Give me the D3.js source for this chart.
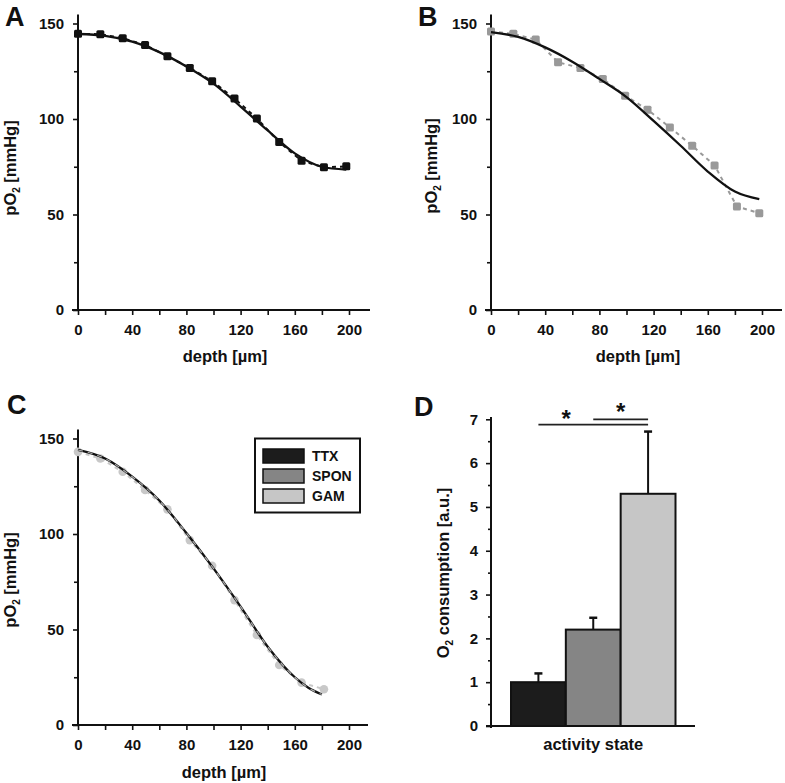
<!DOCTYPE html>
<html><head><meta charset="utf-8">
<script src="https://cdn.jsdelivr.net/npm/d3@7"></script>
<style>body{margin:0;background:#fff}svg{font-family:"Liberation Sans",Arial,sans-serif;font-weight:bold}</style>
</head><body><svg id="c" width="785" height="783"></svg>
<script>
// ---------- data ----------
const depths = [0, 16.5, 33, 49.5, 66, 82.5, 99, 115.5, 132, 148.5, 165, 181.5, 198];
const depthsC = [0, 16.5, 33, 49.5, 66, 82.5, 99, 115.5, 132, 148.5, 165, 181.5];
const pO2A = [144.6, 144.4, 142.3, 138.8, 132.9, 126.7, 119.8, 110.7, 100.3, 87.9, 78.1, 74.7, 75.2];
const pO2B = [145.8, 144.6, 141.6, 129.7, 126.7, 121.0, 112.2, 104.9, 95.6, 86.0, 75.7, 54.2, 50.7];
const pO2C = [143.0, 139.5, 132.6, 123.0, 112.9, 96.8, 83.4, 65.4, 47.1, 31.4, 22.2, 18.7];
const fitDepths = [0, 20, 40, 60, 80, 100, 120, 140, 160, 180, 198];
const fitA = [144.5, 143.5, 140.5, 135, 127.5, 118.5, 106.5, 94, 82, 75, 73.5];
const fitB = [145.5, 143, 137.5, 130, 121, 111.5, 99, 86, 72.5, 62, 58];
const fitDepthsC = [0, 20, 40, 60, 80, 100, 120, 140, 160, 170, 180];
const fitC = [144, 139.5, 130, 117.5, 100.5, 82, 62, 41, 25, 19.5, 16];
const xTicks = [0, 40, 80, 120, 160, 200];
const yTicks = [0, 50, 100, 150];
const states = ["TTX", "SPON", "GAM"];
const consumption = [1.0, 2.2, 5.3];
const consumptionErr = [0.2, 0.27, 1.42];
const stateColors = ["#1c1c1c", "#858585", "#c6c6c6"];
const sigPairs = [["TTX", "GAM", 6.88], ["SPON", "GAM", 7.0]];

const svg = d3.select("#c");
const TICK_FS = 15, TITLE_FS = 16.5;

function styleAxis(g) {
  g.selectAll(".domain").remove();
  g.selectAll("line").attr("stroke", "#111").attr("stroke-width", 1.6);
  g.selectAll("text").attr("font-size", TICK_FS).attr("font-weight", "bold").attr("fill", "#111")
    .attr("font-family", '"Liberation Sans", Arial, sans-serif');
}

function subLabel(g, x, y, pre, post) {
  const t = g.append("text").attr("transform", `translate(${x},${y}) rotate(-90)`)
    .attr("text-anchor", "middle").attr("font-size", TITLE_FS).attr("fill", "#111");
  t.append("tspan").text(pre);
  t.append("tspan").text("2").attr("font-size", 10).attr("dy", 4);
  t.append("tspan").text(post).attr("dy", -4);
}

function linePanel(opt) {
  const x = d3.scaleLinear().domain([0, 200]).range([opt.x0, opt.x0 + 271]);
  const y = d3.scaleLinear().domain([0, 150]).range([opt.y0, opt.y0 - 286.5]);
  const g = svg.append("g");
  g.append("line").attr("x1", x(0)).attr("x2", x(0)).attr("y1", opt.y0 + 1).attr("y2", y(150) - 9)
    .attr("stroke", "#111").attr("stroke-width", 2);
  g.append("line").attr("x1", x(0) - 6).attr("x2", opt.xEnd).attr("y1", opt.y0).attr("y2", opt.y0)
    .attr("stroke", "#111").attr("stroke-width", 2);
  const ya = g.append("g").attr("transform", `translate(${x(0)},0)`)
    .call(d3.axisLeft(y).tickValues(yTicks).tickSize(5).tickPadding(9));
  styleAxis(ya);
  g.append("g").attr("transform", `translate(${x(0)},0)`)
    .call(d3.axisLeft(y).tickValues([25, 75, 125]).tickSize(4).tickFormat(""))
    .call(styleAxis);
  const xa = g.append("g").attr("transform", `translate(0,${opt.y0})`)
    .call(d3.axisBottom(x).tickValues(xTicks).tickSize(5).tickPadding(9));
  styleAxis(xa);
  g.append("g").attr("transform", `translate(0,${opt.y0})`)
    .call(d3.axisBottom(x).tickValues([20, 60, 100, 140, 180]).tickSize(5).tickFormat(""))
    .call(styleAxis);
  g.append("text").attr("x", opt.xlx).attr("y", opt.y0 + opt.xly).attr("text-anchor", "middle")
    .attr("font-size", TITLE_FS).attr("fill", "#111").text("depth [µm]");
  subLabel(g, opt.ylx, opt.yly, "pO", " [mmHg]");
  svg.append("text").attr("x", opt.lx).attr("y", opt.ly).attr("font-size", 27).attr("fill", "#111").text(opt.letter);

  const line = d3.line().x(d => x(d[0])).y(d => y(d[1]));
  const fitPts = opt.fitX.map((d, i) => [d, opt.fit[i]]);
  const dataPts = opt.dataX.map((d, i) => [d, opt.data[i]]);
  const fitLine = d3.line().x(d => x(d[0])).y(d => y(d[1])).curve(d3.curveMonotoneX);
  g.append("path").attr("d", line(dataPts)).attr("fill", "none").attr("stroke", opt.color)
    .attr("stroke-width", 2).attr("stroke-dasharray", "4,4");
  if (opt.shape === "square") {
    g.selectAll(".pt").data(dataPts).join("rect").attr("class", "pt")
      .attr("x", d => x(d[0]) - 4).attr("y", d => y(d[1]) - 4).attr("width", 8).attr("height", 8)
      .attr("rx", 1.5).attr("fill", opt.color);
  } else {
    g.selectAll(".pt").data(dataPts).join("circle").attr("class", "pt")
      .attr("cx", d => x(d[0])).attr("cy", d => y(d[1])).attr("r", 4.3).attr("fill", opt.color);
  }
  g.append("path").attr("d", fitLine(fitPts)).attr("fill", "none").attr("stroke", "#111").attr("stroke-width", 2.3);
  if (opt.overDash) {
    g.append("path").attr("d", fitLine(fitPts)).attr("fill", "none").attr("stroke", "#aaa")
      .attr("stroke-width", 1.2).attr("stroke-dasharray", "5,5");
  }
  return g;
}

linePanel({letter: "A", lx: 5, ly: 26, x0: 78, y0: 310, xEnd: 370, data: pO2A, dataX: depths,
  fit: fitA, fitX: fitDepths, color: "#111", shape: "square", xlx: 225, xly: 52, ylx: 16, yly: 168});
linePanel({letter: "B", lx: 418, ly: 26, x0: 491, y0: 310, xEnd: 782, data: pO2B, dataX: depths,
  fit: fitB, fitX: fitDepths, color: "#999", shape: "square", xlx: 638, xly: 52, ylx: 437, yly: 166});
linePanel({letter: "C", lx: 7, ly: 414, x0: 78, y0: 725, xEnd: 368, data: pO2C, dataX: depthsC,
  fit: fitC, fitX: fitDepthsC, color: "#c8c8c8", shape: "circle", overDash: true,
  xlx: 224, xly: 53, ylx: 16, yly: 580});

// legend in C
const leg = svg.append("g");
leg.append("rect").attr("x", 255).attr("y", 438.5).attr("width", 105).attr("height", 74)
  .attr("fill", "#fff").attr("stroke", "#111").attr("stroke-width", 2);
states.forEach((s, i) => {
  leg.append("rect").attr("x", 263).attr("y", 449 + i * 20).attr("width", 41).attr("height", 14)
    .attr("fill", stateColors[i]).attr("stroke", "#111").attr("stroke-width", 1.5);
  leg.append("text").attr("x", 312).attr("y", 461 + i * 20).attr("font-size", 14).attr("fill", "#111").text(s);
});

// ---------- panel D ----------
const yD = d3.scaleLinear().domain([0, 7]).range([726, 419.3]);
const xD = d3.scaleBand().domain(states).range([511, 675.5]).paddingInner(0);
const gD = svg.append("g");
gD.append("line").attr("x1", 491).attr("x2", 491).attr("y1", 728).attr("y2", 417)
  .attr("stroke", "#111").attr("stroke-width", 2);
gD.append("line").attr("x1", 486).attr("x2", 695).attr("y1", 726).attr("y2", 726)
  .attr("stroke", "#111").attr("stroke-width", 2);
const yaD = gD.append("g").attr("transform", "translate(491,0)")
  .call(d3.axisLeft(yD).tickValues(d3.range(0, 8)).tickSize(5).tickPadding(8).tickFormat(d3.format("d")));
styleAxis(yaD);
gD.append("g").attr("transform", "translate(491,0)")
  .call(d3.axisLeft(yD).tickValues(d3.range(0.5, 7, 1)).tickSize(3).tickFormat(""))
  .call(styleAxis);
gD.selectAll(".bar").data(states).join("rect").attr("class", "bar")
  .attr("x", d => xD(d)).attr("width", xD.bandwidth())
  .attr("y", (d, i) => yD(consumption[i])).attr("height", (d, i) => yD(0) - yD(consumption[i]))
  .attr("fill", (d, i) => stateColors[i]).attr("stroke", "#111").attr("stroke-width", 2);
states.forEach((s, i) => {
  const cx = xD(s) + xD.bandwidth() / 2;
  gD.append("line").attr("x1", cx).attr("x2", cx).attr("y1", yD(consumption[i]))
    .attr("y2", yD(consumption[i] + consumptionErr[i])).attr("stroke", "#111").attr("stroke-width", 2);
  gD.append("line").attr("x1", cx - 4).attr("x2", cx + 4).attr("y1", yD(consumption[i] + consumptionErr[i]))
    .attr("y2", yD(consumption[i] + consumptionErr[i])).attr("stroke", "#111").attr("stroke-width", 2.5);
});
sigPairs.forEach(p => {
  const a = xD(p[0]) + xD.bandwidth() / 2, b = xD(p[1]) + xD.bandwidth() / 2;
  gD.append("line").attr("x1", a).attr("x2", b).attr("y1", yD(p[2])).attr("y2", yD(p[2]))
    .attr("stroke", "#222").attr("stroke-width", 1.8);
  gD.append("text").attr("x", (a + b) / 2 + (p[0] === "TTX" ? -27 : 0)).attr("y", yD(p[2]) + (p[0] === "TTX" ? 2 : 1))
    .attr("text-anchor", "middle").attr("font-size", 24).attr("fill", "#111").text("*");
});
gD.append("text").attr("x", xD("SPON") + xD.bandwidth() / 2).attr("y", 750).attr("text-anchor", "middle")
  .attr("font-size", TITLE_FS).attr("fill", "#111").text("activity state");
subLabel(gD, 449, 573, "O", " consumption [a.u.]");
svg.append("text").attr("x", 414).attr("y", 416).attr("font-size", 27).attr("fill", "#111").text("D");
</script></body></html>
